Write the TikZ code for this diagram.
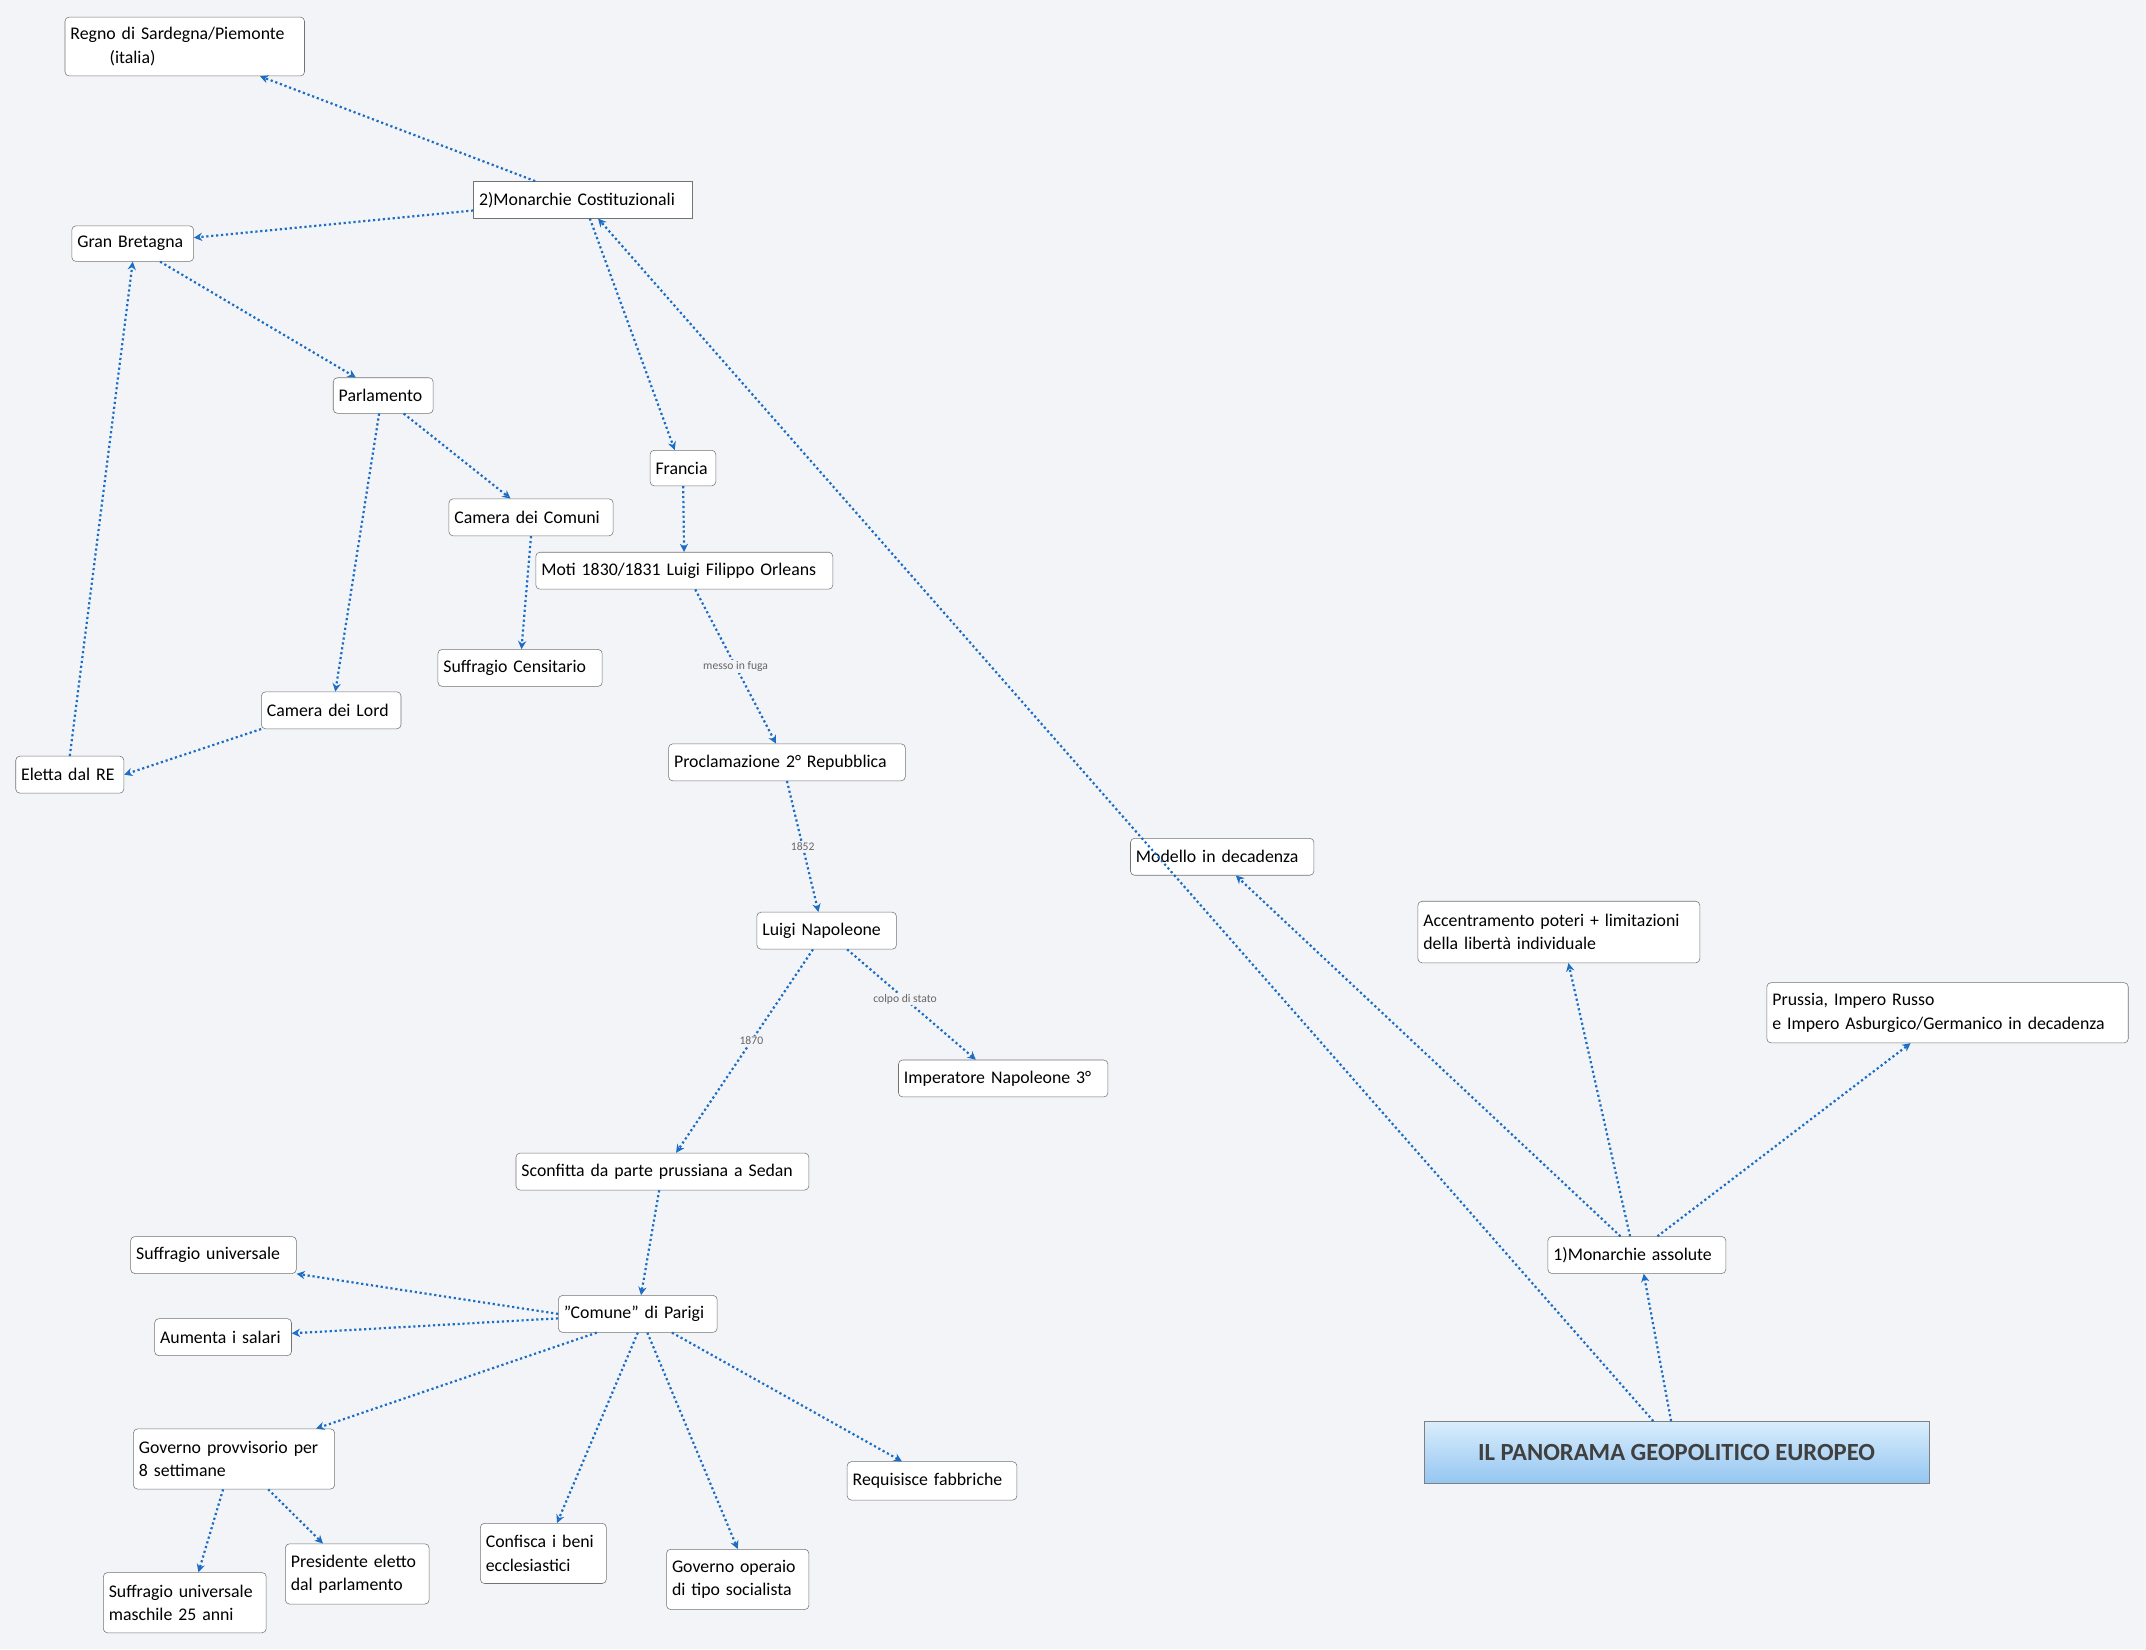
\documentclass[tikz,border=0pt]{standalone}
\usepackage{fontspec}
\setmainfont{Carlito}
\usetikzlibrary{arrows.meta,shadings}
\definecolor{bg}{HTML}{F2F4F7}
\definecolor{ln}{HTML}{1A6CC4}
\definecolor{rt}{HTML}{D9EDFC}
\definecolor{rb}{HTML}{95C6F1}
\tikzset{
 box/.style={draw=black!55,fill=white,rounded corners=3pt,inner xsep=4pt,inner ysep=4pt,font=\fontsize{13}{17}\selectfont,align=left},
 con/.style={ln,line width=1.6pt,dotted,-{Stealth[open,length=6pt,width=6pt]}},
 lab/.style={font=\fontsize{8.5}{9}\selectfont,text=black!60,fill=bg,inner sep=1pt}
}
\begin{document}
\begin{tikzpicture}[x=1pt,y=-1pt]
\fill[bg] (0,0) rectangle (1568,1205);
\useasboundingbox (0,0) rectangle (1568,1205);
\node[box,text width=167pt,minimum height=43] (reg) at (135,34) {Regno di Sardegna/Piemonte\\\hspace*{2.2em}(italia)};
\node[box,rounded corners=0pt,text width=152pt,minimum height=27] (mc) at (426,146) {2)Monarchie Costituzionali};
\node[box,text width=81pt,minimum height=26] (gb) at (97,178) {Gran Bretagna};
\node[box,text width=65pt,minimum height=26] (parl) at (280,289) {Parlamento};
\node[box,text width=40pt,minimum height=26] (fr) at (499,342) {Francia};
\node[box,text width=112pt,minimum height=27] (cc) at (388,378) {Camera dei Comuni};
\node[box,text width=209pt,minimum height=27] (moti) at (500,417) {Moti 1830/1831 Luigi Filippo Orleans};
\node[box,text width=112pt,minimum height=27] (sc) at (380,488) {Suffragio Censitario};
\node[box,text width=94pt,minimum height=27] (cl) at (242,519) {Camera dei Lord};
\node[box,text width=71pt,minimum height=27] (er) at (51,566) {Eletta dal RE};
\node[box,text width=165pt,minimum height=27] (proc) at (575,557) {Proclamazione 2° Repubblica};
\node[box,text width=126pt,minimum height=27] (md) at (893,626) {Modello in decadenza};
\node[box,text width=94pt,minimum height=27] (lnap) at (604,680) {Luigi Napoleone};
\node[box,text width=198pt,minimum height=45] (acc) at (1139,681) {Accentramento poteri + limitazioni\\della libertà individuale};
\node[box,text width=256pt,minimum height=44] (pr) at (1423,740) {Prussia, Impero Russo\\e Impero Asburgico/Germanico in decadenza};
\node[box,text width=145pt,minimum height=27] (imp) at (733,788) {Imperatore Napoleone 3°};
\node[box,text width=206pt,minimum height=27] (sed) at (484,856) {Sconfitta da parte prussiana a Sedan};
\node[box,text width=122pt,minimum height=27] (ma) at (1196,917) {1)Monarchie assolute};
\node[box,text width=113pt,minimum height=27] (su) at (156,917) {Suffragio universale};
\node[box,text width=108pt,minimum height=27] (com) at (466,960) {"Comune" di Parigi};
\node[box,text width=92pt,minimum height=27] (ais) at (163,977) {Aumenta i salari};
\node[draw=black!50,rounded corners=0pt,top color=rt,bottom color=rb,minimum width=369,minimum height=45,font=\fontsize{18}{21}\selectfont\bfseries,text=black!75] (root) at (1225,1061) {IL PANORAMA GEOPOLITICO EUROPEO};
\node[box,text width=139pt,minimum height=44] (gp) at (171,1066) {Governo provvisorio per\\8 settimane};
\node[box,text width=116pt,minimum height=28] (rf) at (681,1082) {Requisisce fabbriche};
\node[box,text width=84pt,minimum height=44] (cb) at (397,1135) {Confisca i beni\\ecclesiastici};
\node[box,text width=96pt,minimum height=44] (go) at (539,1154) {Governo operaio\\di tipo socialista};
\node[box,text width=97pt,minimum height=44] (pe) at (261,1150) {Presidente eletto\\dal parlamento};
\node[box,text width=111pt,minimum height=44] (su25) at (135,1171) {Suffragio universale\\maschile 25 anni};
\draw[con] ([xshift=-35]mc.north) -- ([xshift=55]reg.south);
\draw[con] (mc) -- (gb);
\draw[con] ([xshift=5]mc.south) -- ([xshift=-6]fr.north);
\draw[con] ([xshift=20]gb.south) -- ([xshift=-20]parl.north);
\draw[con] ([xshift=15]parl.south) -- ([xshift=-15]cc.north);
\draw[con] ([xshift=-3]parl.south) -- ([xshift=3]cl.north);
\draw[con] (cc.south) -- ([xshift=1]sc.north);
\draw[con] (cl.south west) -- (er.east);
\draw[con] (er.north) -- (gb.south);
\draw[con] (fr) -- (moti);
\draw[con] ([xshift=8]moti.south) -- node[lab]{messo in fuga} ([xshift=-8]proc.north);
\draw[con] (proc.south) -- node[lab]{1852} ([xshift=-6]lnap.north);
\draw[con] ([xshift=15]lnap.south) -- node[lab,pos=.45]{colpo di stato} ([xshift=-20]imp.north);
\draw[con] ([xshift=-10]lnap.south) -- node[lab,pos=.45]{1870} ([xshift=10]sed.north);
\draw[con] (sed) -- (com);
\draw[con] (com.west) -- (su.south east);
\draw[con] (com) -- (ais);
\draw[con] ([xshift=-30]com.south) -- ([xshift=60]gp.north);
\draw[con] (com.south) -- ([xshift=10]cb.north);
\draw[con] ([xshift=7]com.south) -- (go.north);
\draw[con] ([xshift=25]com.south) -- ([xshift=-22]rf.north);
\draw[con] ([xshift=-8]gp.south) -- ([xshift=10]su25.north);
\draw[con] ([xshift=25]gp.south) -- ([xshift=-25]pe.north);
\draw[con] ([xshift=-17]root.north) -- ([xshift=11]mc.south);
\draw[con] ([xshift=-4]root.north) -- ([xshift=5]ma.south);
\draw[con] ([xshift=-12]ma.north) -- ([xshift=10]md.south);
\draw[con] ([xshift=-5]ma.north) -- ([xshift=7]acc.south);
\draw[con] ([xshift=15]ma.north) -- ([xshift=-27]pr.south);
\end{tikzpicture}
\end{document}
